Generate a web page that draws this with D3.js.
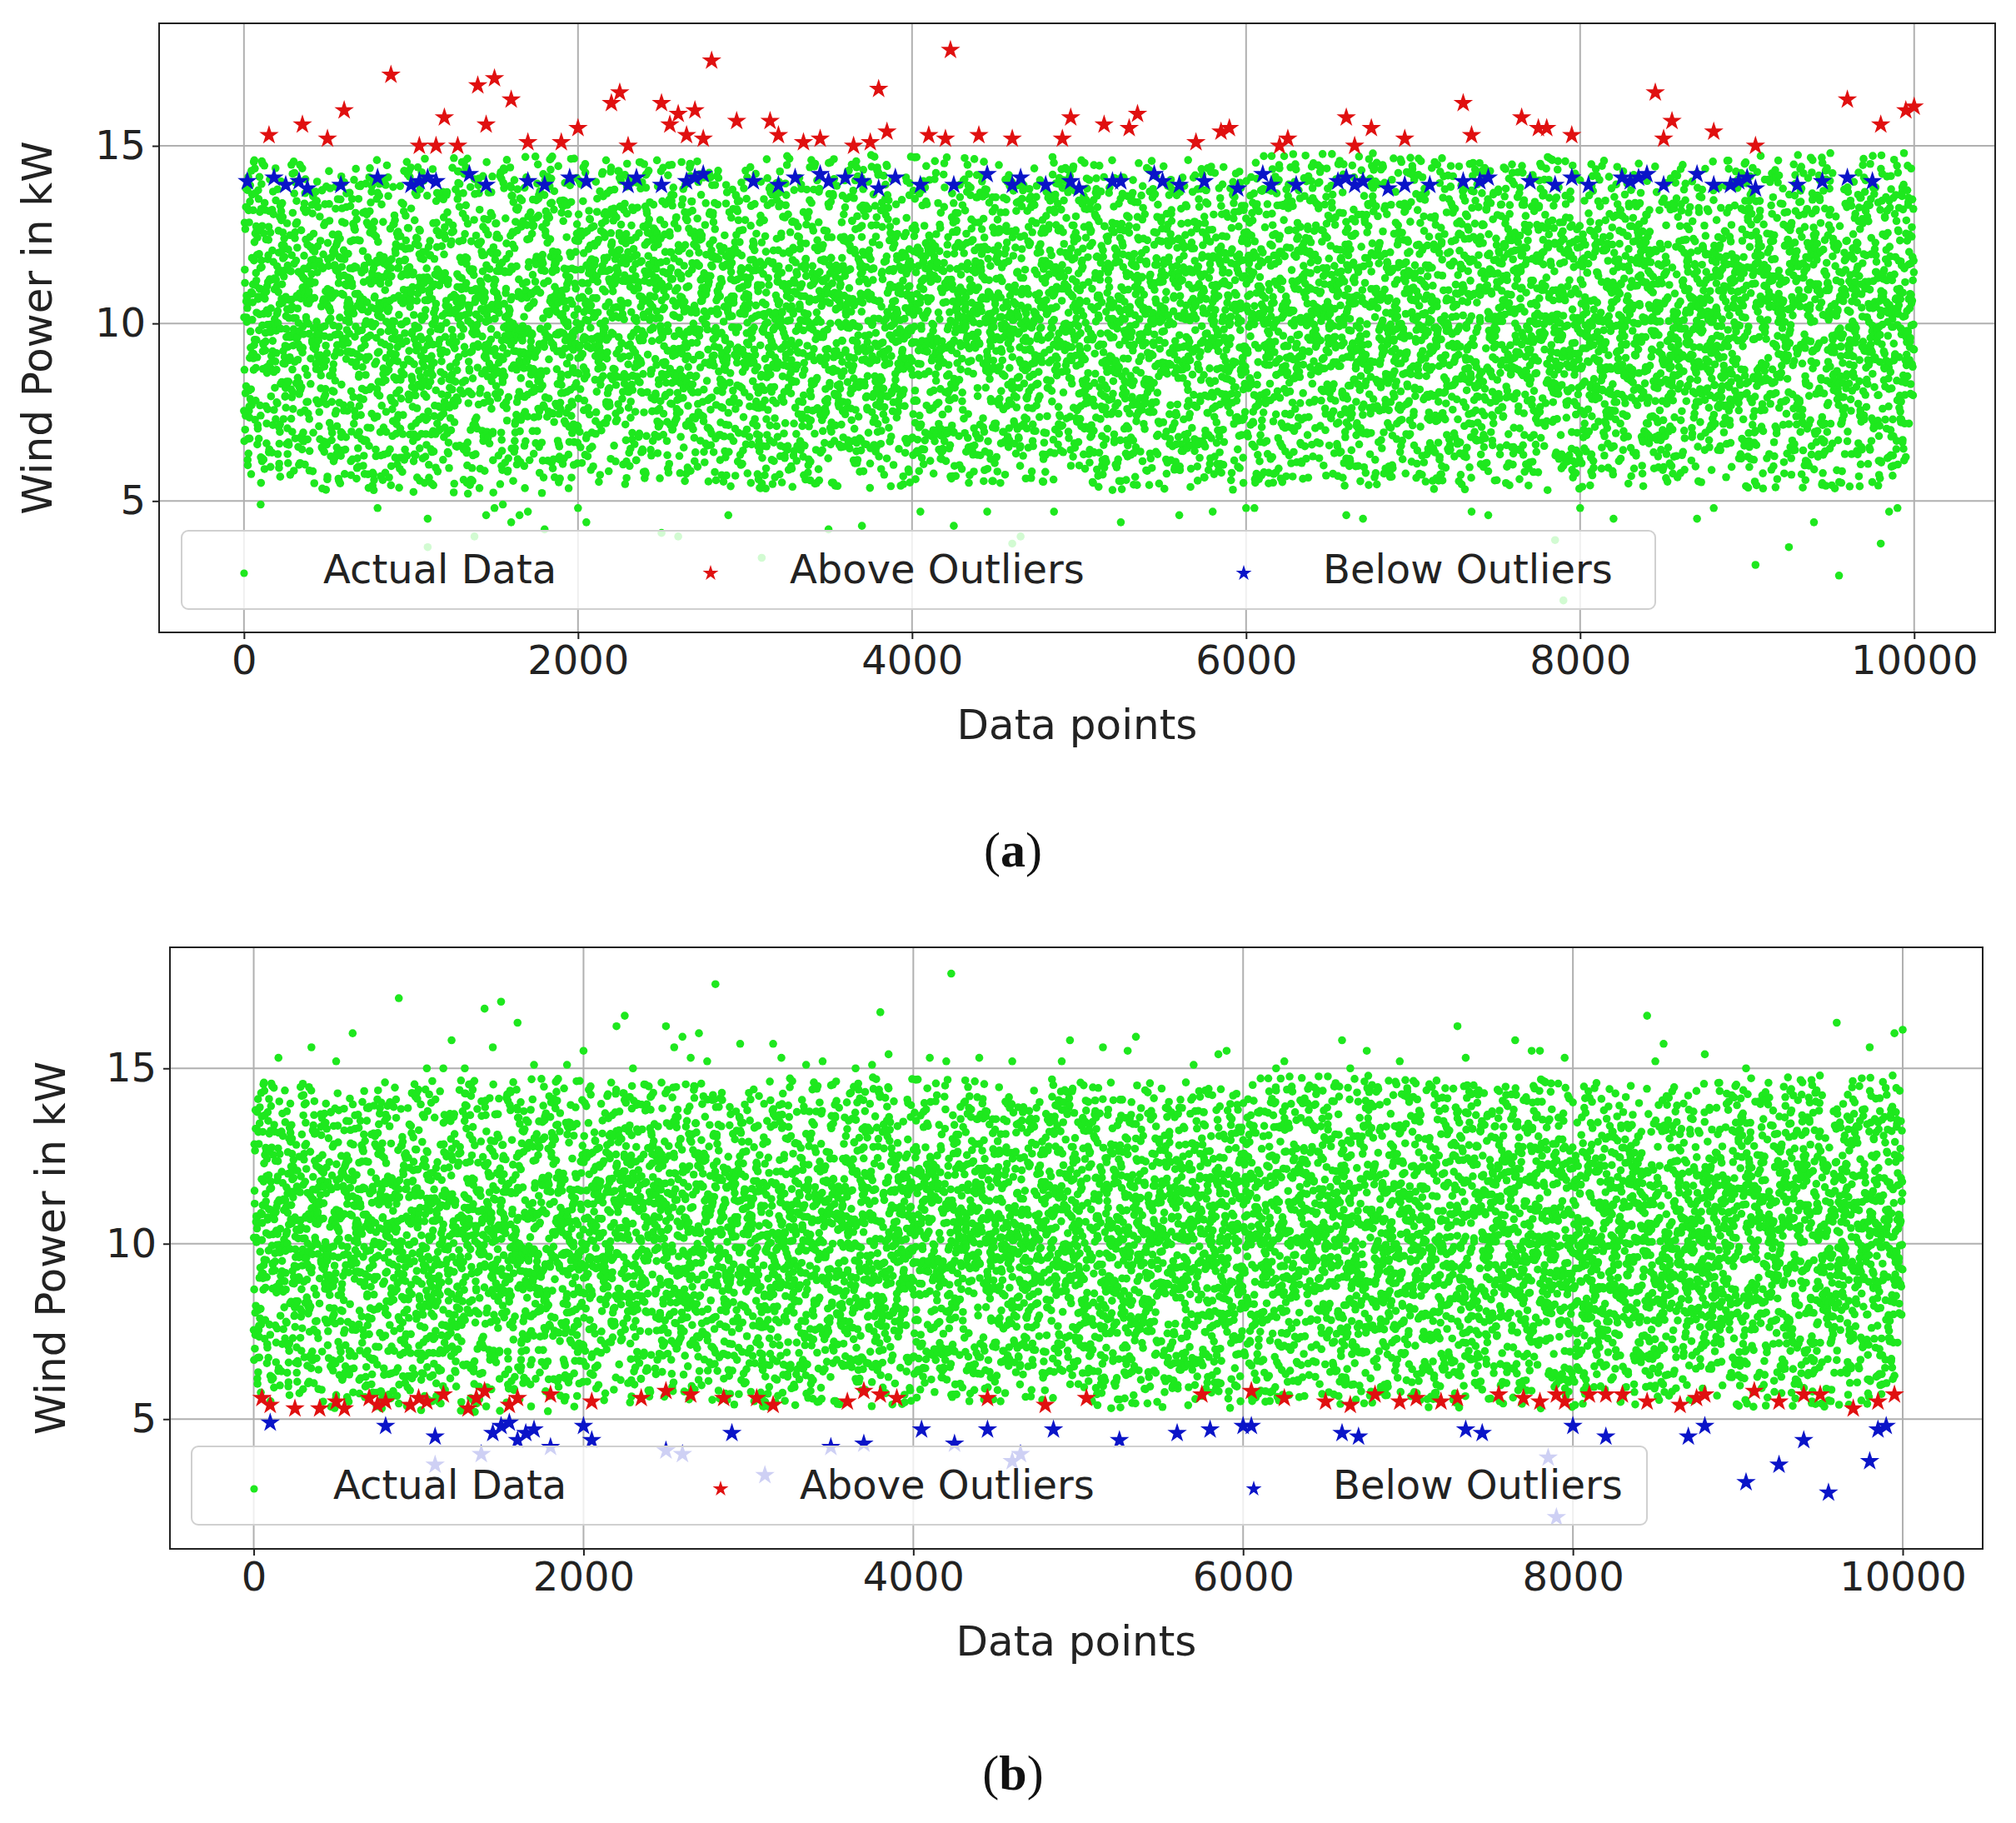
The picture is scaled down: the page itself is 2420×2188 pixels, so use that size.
<!DOCTYPE html><html><head><meta charset="utf-8">
<script src="https://cdn.jsdelivr.net/npm/d3@7"></script>
<style>body{margin:0;background:#fff}</style></head><body>
<svg id="c" width="2420" height="2188" font-family="DejaVu Sans, sans-serif"></svg>
<script>
// ---- data ----
const xTicks=[0,2000,4000,6000,8000,10000];
const yTicks=[5,10,15];
const nPoints=10000;
// per-1000 bin envelope of the dense green cloud [low, high]
const cloudLow=[5.3,5.2,5.4,5.3,5.5,5.3,5.4,5.3,5.4,5.3];
const cloudHigh=[14.6,14.7,14.6,14.8,14.7,14.6,14.8,14.7,14.6,14.8];
// high readings: red stars in (a), green in (b)
const highX=[150,350,500,600,880,1050,1150,1200,1280,1400,1450,1500,1600,1700,1900,2000,2200,2250,2300,2500,2550,2600,2650,2700,2750,2800,2950,3150,3200,3350,3450,3650,3750,3800,3850,4100,4200,4230,4400,4600,4900,4950,5150,5300,5350,5700,5850,5900,6200,6250,6600,6650,6750,6950,7300,7350,7650,7750,7800,7950,8450,8500,8550,8800,9050,9600,9800,9950,10000];
const highY=[15.3,15.6,15.2,16.0,17.0,15.0,15.0,15.8,15.0,16.7,15.6,16.9,16.3,15.1,15.1,15.5,16.2,16.5,15.0,16.2,15.6,15.9,15.3,16.0,15.2,17.4,15.7,15.7,15.3,15.1,15.2,15.0,15.1,16.6,15.4,15.3,15.2,17.7,15.3,15.2,15.2,15.8,15.6,15.5,15.9,15.1,15.4,15.5,15.0,15.2,15.8,15.0,15.5,15.2,16.2,15.3,15.8,15.5,15.5,15.3,16.5,15.2,15.7,15.4,15.0,16.3,15.6,16.0,16.1];
// low readings: green in (a), blue stars in (b)
const lowX=[100,800,1100,1100,1380,1450,1500,1550,1600,1650,1700,1800,2000,2050,2500,2600,2900,3100,3500,3700,4050,4250,4450,4600,4650,4850,5250,5600,5800,6000,6050,6600,6700,7350,7450,7850,7900,8000,8200,8700,8800,9050,9250,9400,9550,9800,9850,9900];
const lowY=[4.9,4.8,4.5,3.7,4.0,4.6,4.8,4.9,4.4,4.6,4.7,4.2,4.8,4.4,4.1,4.0,4.6,3.4,4.2,4.3,4.7,4.3,4.7,3.8,4.0,4.7,4.4,4.6,4.7,4.8,4.8,4.6,4.5,4.7,4.6,3.9,2.2,4.8,4.5,4.5,4.8,3.2,3.7,4.4,2.9,3.8,4.7,4.8];
// blue stars in (a) near the upper limit
const belowAX=[20,180,250,330,380,580,800,1000,1050,1100,1150,1350,1450,1700,1800,1950,2050,2300,2350,2500,2650,2700,2750,3050,3200,3300,3450,3500,3600,3700,3800,3900,4050,4250,4450,4600,4650,4800,4950,5000,5200,5250,5450,5500,5600,5750,5950,6100,6150,6300,6550,6600,6650,6700,6850,6950,7100,7300,7400,7450,7700,7850,7950,8050,8250,8300,8350,8400,8500,8700,8800,8900,8950,9000,9050,9300,9450,9600,9750];
const belowAY=[14.0,14.1,13.9,14.0,13.8,13.9,14.1,13.9,14.0,14.1,14.0,14.2,13.9,14.0,13.9,14.1,14.0,13.9,14.1,13.9,14.0,14.1,14.2,14.0,13.9,14.1,14.2,14.0,14.1,14.0,13.8,14.1,13.9,13.9,14.2,13.9,14.1,13.9,14.0,13.8,14.0,14.0,14.2,14.0,13.9,14.0,13.8,14.2,13.9,13.9,14.0,14.1,13.9,14.0,13.8,13.9,13.9,14.0,14.0,14.1,14.0,13.9,14.1,13.9,14.1,14.0,14.1,14.2,13.9,14.2,13.9,13.9,14.0,14.1,13.8,13.9,14.0,14.1,14.0];
// red stars in (b) near the lower limit
const aboveBX=[50,100,250,400,500,550,700,750,800,950,1000,1050,1150,1300,1350,1400,1550,1600,1800,2050,2350,2500,2650,2850,3050,3150,3600,3700,3800,3900,4450,4800,5050,5750,6050,6250,6500,6650,6800,6950,7050,7200,7300,7550,7700,7800,7900,7950,8100,8200,8300,8450,8650,8750,8800,9100,9250,9400,9500,9700,9850,9950];
const aboveBY=[5.6,5.4,5.3,5.3,5.5,5.3,5.6,5.4,5.5,5.4,5.6,5.5,5.7,5.3,5.6,5.8,5.4,5.6,5.7,5.5,5.6,5.8,5.7,5.6,5.6,5.4,5.5,5.8,5.7,5.6,5.6,5.4,5.6,5.7,5.8,5.6,5.5,5.4,5.7,5.5,5.6,5.5,5.6,5.7,5.6,5.5,5.7,5.5,5.7,5.7,5.7,5.5,5.4,5.6,5.7,5.8,5.5,5.7,5.7,5.3,5.5,5.7];

// deterministic stratified spread of the dense cloud inside the read envelope
function h(i,k){let s=Math.sin(i*12.9898+k*78.233)*43758.5453;return s-Math.floor(s);}
const cloud=d3.range(nPoints).map(i=>{const b=Math.min(9,Math.floor(i/1000));const lo=cloudLow[b],hi=cloudHigh[b];
  const u=(h(i,1)+h(i,2)+h(i,3)+h(i,6))/4;const m=(lo+hi)/2;let y=m+(u-0.5)*(hi-lo)*1.9;
  if(y<lo)y=lo+h(i,4)*1.5; if(y>hi)y=hi-h(i,5)*1.5; return [i,y];});

const svg=d3.select("#c");
const GREEN="#1ee81e",RED="#e01010",BLUE="#0a14c8";
const star=d3.symbol().type(d3.symbolStar).size(170);
function panel(cfg){
  const x=d3.scaleLinear().domain([-508,10485]).range([cfg.l,cfg.r]);
  const y=d3.scaleLinear().domain([1.3,18.45]).range([cfg.b,cfg.t]);
  const g=svg.append("g");
  g.append("g").selectAll("line").data(xTicks).join("line").attr("x1",d=>x(d)).attr("x2",d=>x(d)).attr("y1",cfg.t).attr("y2",cfg.b).attr("stroke","#b0b0b0").attr("stroke-width",2);
  g.append("g").selectAll("line").data(yTicks).join("line").attr("y1",d=>y(d)).attr("y2",d=>y(d)).attr("x1",cfg.l).attr("x2",cfg.r).attr("stroke","#b0b0b0").attr("stroke-width",2);
  const dots=cloud.concat(cfg.extraGreen);
  g.append("g").selectAll("circle").data(dots).join("circle").attr("cx",d=>x(d[0])).attr("cy",d=>y(d[1])).attr("r",4.8).attr("fill",GREEN);
  const stars=(xs,ys,c)=>g.append("g").selectAll("path").data(xs).join("path").attr("d",star).attr("fill",c).attr("transform",(d,i)=>`translate(${x(d)},${y(ys[i])})`);
  stars(cfg.redX,cfg.redY,RED); stars(cfg.blueX,cfg.blueY,BLUE);
  const L=cfg.leg;
  g.append("rect").attr("x",L.x).attr("y",L.y).attr("width",L.w).attr("height",L.h).attr("rx",8).attr("fill","rgba(255,255,255,0.8)").attr("stroke","#d0d0d0").attr("stroke-width",2);
  const cy=L.y+L.h/2;
  const items=[["Actual Data",GREEN,"dot",L.x+75],["Above Outliers",RED,"star",L.x+635],["Below Outliers",BLUE,"star",L.x+1275]];
  items.forEach(([t,c,k,mx])=>{
    if(k==="dot")g.append("circle").attr("cx",mx).attr("cy",cy+4).attr("r",4.6).attr("fill",c);
    else g.append("path").attr("d",d3.symbol().type(d3.symbolStar).size(110)).attr("fill",c).attr("transform",`translate(${mx},${cy+4})`);
    g.append("text").attr("x",mx+95).attr("y",cy+16).attr("font-size",48).attr("fill","#222").text(t);
  });
  g.append("rect").attr("x",cfg.l).attr("y",cfg.t).attr("width",cfg.r-cfg.l).attr("height",cfg.b-cfg.t).attr("fill","none").attr("stroke","#222").attr("stroke-width",2);
  const xa=g.append("g").attr("transform",`translate(0,${cfg.b})`).call(d3.axisBottom(x).tickValues(xTicks).tickFormat(d3.format("d")).tickSize(8).tickPadding(8));
  const ya=g.append("g").attr("transform",`translate(${cfg.l},0)`).call(d3.axisLeft(y).tickValues(yTicks).tickSize(8).tickPadding(8));
  [xa,ya].forEach(a=>{a.attr("font-family",null);a.select(".domain").remove();a.selectAll("text").attr("font-size",48).attr("fill","#222");a.selectAll("line").attr("stroke","#222").attr("stroke-width",2);});
  g.append("text").attr("x",(cfg.l+cfg.r)/2).attr("y",cfg.b+128).attr("text-anchor","middle").attr("font-size",50).attr("fill","#222").text("Data points");
  g.append("text").attr("transform",`translate(${cfg.yl},${(cfg.t+cfg.b)/2}) rotate(-90)`).attr("text-anchor","middle").attr("font-size",50).attr("fill","#222").text("Wind Power in kW");
  svg.append("text").attr("x",1216).attr("y",cfg.cap).attr("text-anchor","middle").attr("font-size",60).attr("font-family","Liberation Serif, serif").attr("fill","#111")
    .call(t=>{t.append("tspan").text("(");t.append("tspan").attr("font-weight","bold").text(cfg.label);t.append("tspan").text(")");});
}
const lows=lowX.map((d,i)=>[d,lowY[i]]), highs=highX.map((d,i)=>[d,highY[i]]);
panel({l:191,r:2395,t:28,b:759,yl:62,cap:1040,label:"a",extraGreen:lows,redX:highX,redY:highY,blueX:belowAX,blueY:belowAY,leg:{x:218,y:637,w:1769,h:94}});
panel({l:204,r:2380,t:1137,b:1859,yl:78,cap:2148,label:"b",extraGreen:highs,redX:aboveBX,redY:aboveBY,blueX:lowX,blueY:lowY,leg:{x:230,y:1736,w:1747,h:94}});
</script></body></html>
